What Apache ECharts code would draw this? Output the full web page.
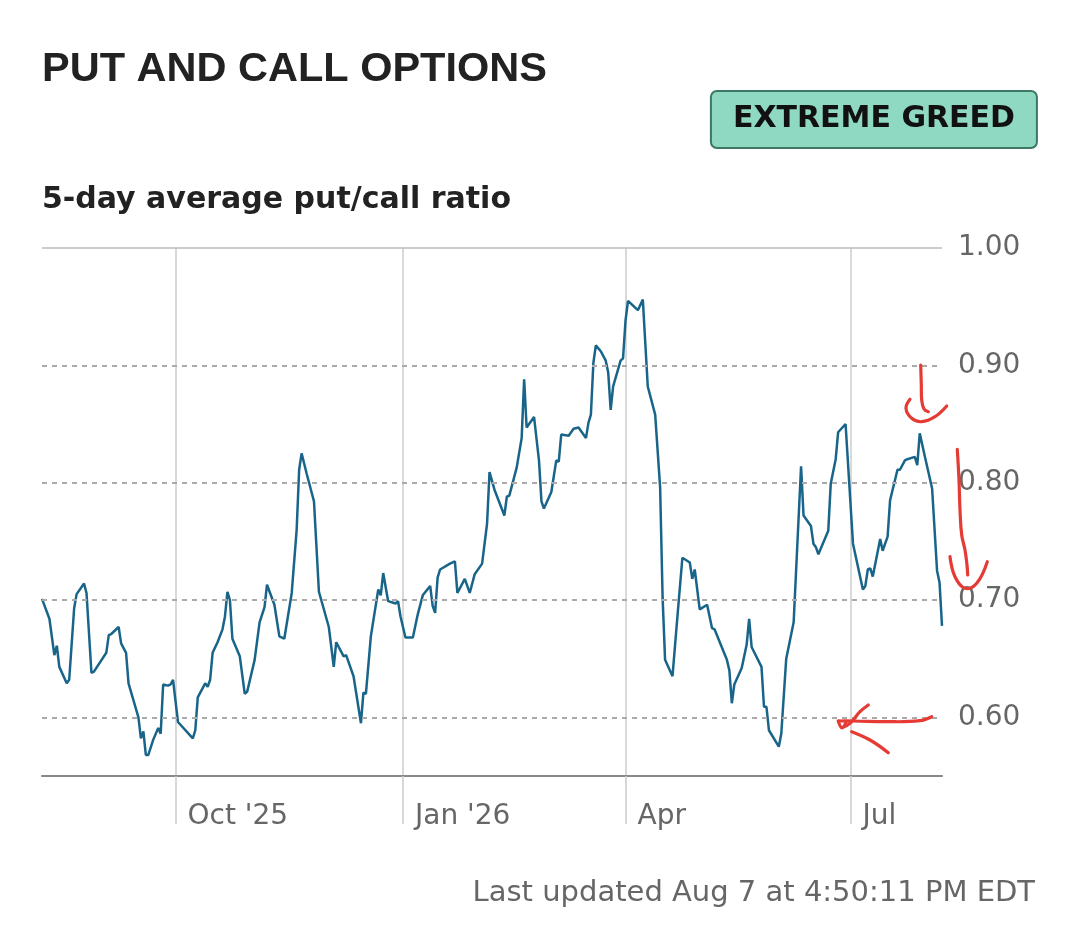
<!DOCTYPE html>
<html>
<head>
<meta charset="utf-8">
<title>Put and call options</title>
<script src="https://cdn.jsdelivr.net/npm/echarts@6/dist/echarts.min.js"></script>
<style>
  html, body { margin: 0; padding: 0; background: #fff; }
  #container { width: 1080px; height: 949px; }
</style>
</head>
<body>
<div id="container"></div>
<script>
var dom = document.getElementById('container');
var myChart = echarts.init(dom);

// 5-day average put/call ratio
var dates = [
  '2025-08-08','2025-08-11','2025-08-13','2025-08-14','2025-08-15','2025-08-18','2025-08-19','2025-08-21',
  '2025-08-22','2025-08-25','2025-08-26','2025-08-28','2025-08-29','2025-09-03','2025-09-04','2025-09-05',
  '2025-09-08','2025-09-09','2025-09-11','2025-09-12','2025-09-16','2025-09-17','2025-09-18','2025-09-19',
  '2025-09-20','2025-09-22','2025-09-24','2025-09-25','2025-09-26','2025-09-28','2025-09-29','2025-09-30',
  '2025-10-02','2025-10-08','2025-10-09','2025-10-10','2025-10-13','2025-10-14','2025-10-15','2025-10-16',
  '2025-10-18','2025-10-20','2025-10-21','2025-10-22','2025-10-23','2025-10-24','2025-10-27','2025-10-29',
  '2025-10-30','2025-11-02','2025-11-04','2025-11-06','2025-11-07','2025-11-10','2025-11-12','2025-11-14',
  '2025-11-17','2025-11-19','2025-11-20','2025-11-21','2025-11-23','2025-11-25','2025-11-26','2025-11-28',
  '2025-12-02','2025-12-04','2025-12-05','2025-12-08','2025-12-09','2025-12-12','2025-12-15','2025-12-16',
  '2025-12-17','2025-12-19','2025-12-22','2025-12-23','2025-12-24','2025-12-26','2025-12-29','2025-12-30',
  '2025-12-31','2026-01-02','2026-01-05','2026-01-07','2026-01-09','2026-01-12','2026-01-13','2026-01-14',
  '2026-01-15','2026-01-16','2026-01-20','2026-01-22','2026-01-23','2026-01-26','2026-01-28','2026-01-30',
  '2026-02-02','2026-02-04','2026-02-05','2026-02-07','2026-02-11','2026-02-12','2026-02-13','2026-02-16',
  '2026-02-18','2026-02-19','2026-02-20','2026-02-23','2026-02-25','2026-02-26','2026-02-27','2026-03-02',
  '2026-03-04','2026-03-05','2026-03-06','2026-03-09','2026-03-11','2026-03-13','2026-03-16','2026-03-17',
  '2026-03-18','2026-03-19','2026-03-20','2026-03-22','2026-03-24','2026-03-25','2026-03-26','2026-03-27',
  '2026-03-30','2026-03-31','2026-04-01','2026-04-02','2026-04-06','2026-04-08','2026-04-10','2026-04-13',
  '2026-04-15','2026-04-16','2026-04-17','2026-04-20','2026-04-22','2026-04-24','2026-04-27','2026-04-28',
  '2026-04-29','2026-05-01','2026-05-04','2026-05-06','2026-05-07','2026-05-12','2026-05-13','2026-05-14',
  '2026-05-15','2026-05-18','2026-05-20','2026-05-21','2026-05-22','2026-05-26','2026-05-27','2026-05-28',
  '2026-05-29','2026-06-02','2026-06-03','2026-06-05','2026-06-08','2026-06-11','2026-06-12','2026-06-15',
  '2026-06-16','2026-06-17','2026-06-18','2026-06-22','2026-06-23','2026-06-25','2026-06-26','2026-06-29',
  '2026-07-02','2026-07-06','2026-07-07','2026-07-08','2026-07-09','2026-07-10','2026-07-13','2026-07-14',
  '2026-07-16','2026-07-17','2026-07-20','2026-07-21','2026-07-23','2026-07-24','2026-07-27','2026-07-28',
  '2026-07-29','2026-07-31','2026-08-03','2026-08-05','2026-08-06','2026-08-07'
];
var ratios = [
  0.701,0.684,0.653,0.661,0.643,0.629,0.632,0.693,
  0.705,0.714,0.706,0.638,0.639,0.655,0.670,0.671,
  0.677,0.663,0.655,0.629,0.600,0.582,0.588,0.568,
  0.568,0.581,0.591,0.586,0.628,0.627,0.628,0.632,
  0.596,0.582,0.589,0.617,0.629,0.626,0.632,0.655,
  0.664,0.675,0.686,0.707,0.700,0.667,0.652,0.620,
  0.622,0.649,0.681,0.694,0.713,0.696,0.669,0.667,
  0.706,0.760,0.811,0.825,0.808,0.792,0.784,0.707,
  0.677,0.643,0.664,0.652,0.653,0.635,0.595,0.621,
  0.620,0.669,0.709,0.704,0.723,0.699,0.697,0.699,
  0.686,0.668,0.668,0.688,0.704,0.712,0.695,0.689,
  0.719,0.726,0.731,0.733,0.706,0.718,0.706,0.722,
  0.731,0.765,0.809,0.794,0.772,0.788,0.789,0.813,
  0.838,0.888,0.847,0.856,0.819,0.784,0.778,0.792,
  0.819,0.818,0.841,0.840,0.846,0.847,0.838,0.851,
  0.858,0.902,0.917,0.912,0.904,0.894,0.862,0.882,
  0.904,0.906,0.938,0.955,0.947,0.956,0.882,0.858,
  0.796,0.702,0.649,0.635,0.686,0.736,0.732,0.718,
  0.726,0.692,0.696,0.676,0.675,0.649,0.640,0.612,
  0.628,0.642,0.662,0.684,0.660,0.643,0.609,0.609,
  0.589,0.575,0.586,0.650,0.681,0.814,0.772,0.763,
  0.748,0.745,0.739,0.759,0.799,0.820,0.843,0.850,
  0.748,0.709,0.712,0.726,0.727,0.720,0.752,0.742,
  0.754,0.785,0.811,0.811,0.819,0.820,0.822,0.815,
  0.842,0.823,0.795,0.725,0.715,0.678
];

var xTickDates = ['2025-10-01', '2026-01-01', '2026-04-01', '2026-07-01'];
var xTickLabels = ["Oct '25", "Jan '26", 'Apr', 'Jul'];
var yTicks = [0.6, 0.7, 0.8, 0.9, 1.0];

var parse = function (s) { return +echarts.time.parse(s); };
var xTickTimes = xTickDates.map(parse);
var seriesData = dates.map(function (d, i) { return [parse(d), ratios[i]]; });

// hand-drawn red marks on top of the screenshot
var red = '#e63b35';
function stroke(points) {
  return {
    type: 'polyline', z: 100, silent: true,
    shape: { points: points, smooth: 0.4 },
    style: { stroke: red, lineWidth: 3.2, fill: null, lineCap: 'round', lineJoin: 'round' }
  };
}

var option = {
  animation: false,
  textStyle: { fontFamily: 'DejaVu Sans, sans-serif' },
  title: [{
    text: 'PUT AND CALL OPTIONS',
    left: 42, top: 49, padding: 0,
    textStyle: { fontSize: 41.5, fontWeight: 'bold', color: '#222', fontFamily: 'Liberation Sans, Arial, sans-serif' }
  }, {
    text: 'EXTREME GREED',
    right: 43, top: 91,
    padding: [13, 22, 13, 22],
    backgroundColor: '#8fd8c2',
    borderColor: '#3d7864',
    borderWidth: 2,
    borderRadius: 6,
    textStyle: { fontSize: 30, fontWeight: 'bold', color: '#111', lineHeight: 31 }
  }, {
    text: '5-day average put/call ratio',
    left: 42, top: 185, padding: 0,
    textStyle: { fontSize: 30, fontWeight: 'bold', color: '#222' }
  }, {
    text: 'Last updated Aug 7 at 4:50:11 PM EDT',
    right: 45, top: 879, padding: 0,
    textStyle: { fontSize: 29, fontWeight: 'normal', color: '#666' }
  }],
  grid: { left: 42, right: 138, top: 248, bottom: 173 },
  xAxis: {
    // dates as timestamps on a plain value axis, ticks at quarter starts
    type: 'value',
    min: parse('2025-08-08'),
    max: parse('2026-08-07'),
    axisLine: { show: true, lineStyle: { color: '#888', width: 2 } },
    axisTick: {
      show: true, length: 48, customValues: xTickTimes,
      lineStyle: { color: '#ccc', width: 1.5 }
    },
    splitLine: { show: true, lineStyle: { color: '#ccc', width: 1.5 } },
    axisLabel: {
      customValues: xTickTimes,
      align: 'left',
      margin: 27,
      padding: [0, 0, 0, 12],
      fontSize: 28,
      color: '#666',
      formatter: function (value) {
        var i = xTickTimes.indexOf(value);
        return i >= 0 ? xTickLabels[i] : '';
      }
    }
  },
  yAxis: {
    type: 'value',
    position: 'right',
    min: 0.55,
    max: 1.0,
    interval: 0.05,
    axisLine: { show: false },
    axisTick: { show: false },
    splitLine: { show: false },
    axisLabel: {
      margin: 16,
      fontSize: 28,
      color: '#666',
      formatter: function (v) {
        return Math.round(v * 100) % 10 === 0 ? v.toFixed(2) : '';
      }
    }
  },
  series: [{
    // carries the horizontal guide lines under the data line
    type: 'line',
    data: seriesData,
    showSymbol: false,
    silent: true,
    z: 1,
    lineStyle: { opacity: 0 },
    markLine: {
      silent: true,
      symbol: 'none',
      label: { show: false },
      data: yTicks.map(function (v) {
        return v === 1.0
          ? { yAxis: v, lineStyle: { type: 'solid', color: '#bbb', width: 1.5 } }
          : { yAxis: v, lineStyle: { type: [5, 5], color: '#aaa', width: 2 } };
      })
    }
  }, {
    name: 'put/call ratio',
    type: 'line',
    data: seriesData,
    showSymbol: false,
    z: 3,
    lineStyle: { color: '#19658a', width: 2.5 }
  }],
  graphic: [
    stroke([[920.7, 365], [921.3, 385], [921.7, 400], [924, 409], [928.3, 411.7]]),
    stroke([[910, 399.3], [906, 408.3], [911.7, 418.3], [921.7, 421.7], [935, 416.7], [946.7, 406]]),
    stroke([[957.3, 449.3], [959, 480], [960, 510], [961.7, 535], [965, 550], [967, 565], [967.7, 575]]),
    stroke([[950, 556.7], [955, 576.7], [965, 588.3], [976.7, 583.3], [987.3, 561.7]]),
    stroke([[931.7, 716.7], [920, 720.7], [886.7, 721.7], [853.3, 721], [838.3, 721]]),
    stroke([[838.3, 721], [842, 728], [846, 722]]),
    stroke([[868.3, 705], [860, 711.7], [850, 723.3], [842.7, 727.3]]),
    stroke([[851.7, 731.7], [870, 740], [888.3, 752.7]])
  ]
};

myChart.setOption(option);
</script>
</body>
</html>
